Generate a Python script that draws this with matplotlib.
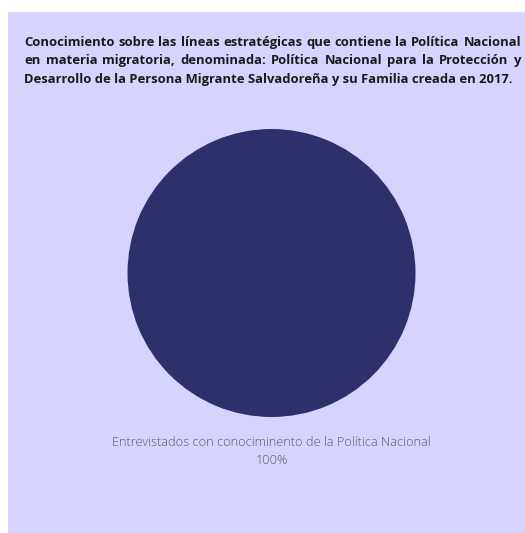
import matplotlib
matplotlib.use('Agg')
import matplotlib.pyplot as plt
from matplotlib.patches import Rectangle

# ─── 数据 ─────────────────────────────
labels = ['Entrevistados con conociminento de la Política Nacional']
values = [100]
pct_labels = ['100%']
title_lines = [
    'Conocimiento sobre las líneas estratégicas que contiene la Política Nacional',
    'en materia migratoria, denominada: Política Nacional para la Protección y',
    'Desarrollo de la Persona Migrante Salvadoreña y su Familia creada en 2017.',
]

W, H = 525, 533
BG = '#d6d4fe'
PIE_C = '#2d306a'

fig = plt.figure(figsize=(W / 100, H / 100), dpi=100, facecolor='white')
fig.patches.append(Rectangle((8 / W, 0), 1 - 8 / W, 1 - 12 / H, transform=fig.transFigure,
                             facecolor=BG, edgecolor='none', zorder=-5))

# pie: centre (271.5, 273) px, radius 144 px
cx, cy, r = 271.5, 273, 144
ax = fig.add_axes([(cx - r) / W, (H - cy - r) / H, 2 * r / W, 2 * r / H])
ax.pie(values, colors=[PIE_C], startangle=90, wedgeprops=dict(linewidth=0))
ax.set_xlim(-1, 1); ax.set_ylim(-1, 1)
ax.set_aspect('auto')
ax.axis('off')
ax.set_zorder(2)

# title: bold, justified lines 1-2 (block 24 → 521 px)
x0, x1 = 24, 521
tkw = dict(fontsize=9.4, fontweight='bold', family='Open Sans', color='#1a1a1a', va='baseline', ha='left')
renderer = fig.canvas.get_renderer()
for i, line in enumerate(title_lines):
    y = 1 - (46 + 18.3 * i) / H
    if i == len(title_lines) - 1:
        fig.text(x0 / W, y, line, **tkw)
        continue
    words = line.split(' ')
    arts = [fig.text(0, y, w, **tkw) for w in words]
    widths = [a.get_window_extent(renderer).width for a in arts]
    gap = (x1 - x0 - sum(widths)) / (len(words) - 1)
    xp = x0
    for a, w in zip(arts, widths):
        a.set_x(xp / W)
        xp += w + gap

# slice label
lkw = dict(ha='center', va='center', fontsize=9.2, fontweight='light', family='Open Sans', color='#5c5c5c')
fig.text(cx / W, 1 - 443 / H, labels[0], **lkw)
fig.text(cx / W, 1 - 461 / H, pct_labels[0], **lkw)

fig.savefig('out.png', dpi=100, facecolor='white')
